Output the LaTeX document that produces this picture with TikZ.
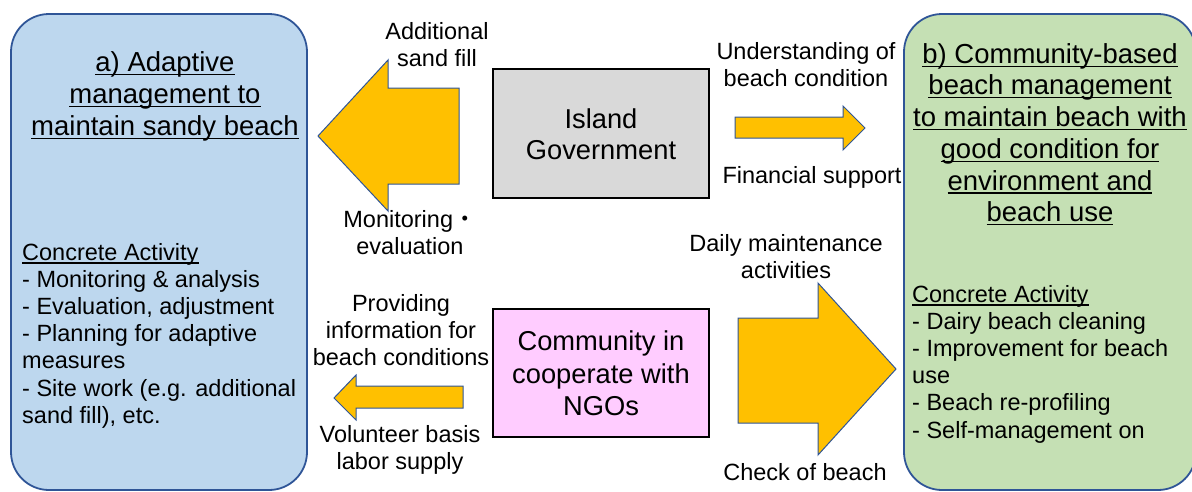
\documentclass[tikz,border=0pt]{standalone}
\usepackage{fontspec}
\setmainfont{Liberation Sans}
\newfontfamily\cjk{Noto Sans CJK JP}
\newsavebox\ulbox
\newcommand\myul[1]{\sbox\ulbox{#1}\rlap{\rule[-3.5pt]{\wd\ulbox}{1.2pt}}\usebox\ulbox}
\definecolor{leftblue}{HTML}{BDD7EE}
\definecolor{rightgreen}{HTML}{C5E0B4}
\definecolor{boxblue}{HTML}{2F5597}
\definecolor{govgray}{HTML}{D9D9D9}
\definecolor{commpink}{HTML}{FFCCFF}
\definecolor{arrowyellow}{HTML}{FFC000}
\definecolor{arrowblue}{HTML}{2F5597}
\tikzset{
  lbl/.style={font=\fontsize{23.5pt}{27.2pt}\selectfont, align=center, inner sep=0pt},
  titletext/.style={font=\fontsize{27.5pt}{31.7pt}\selectfont, align=center, inner sep=0pt},
  acttext/.style={font=\fontsize{23.5pt}{27.2pt}\selectfont, align=left, inner sep=0pt, anchor=north west},
  bigbox/.style={draw=boxblue, line width=1.8pt, rounded corners=38pt, inner sep=0pt},
  actor/.style={draw=black, line width=2.5pt, inner sep=0pt},
  blockarrow/.style={fill=arrowyellow, draw=arrowblue, line width=1pt, line join=miter}
}
\begin{document}
\begin{tikzpicture}[x=1pt,y=-1pt]
\useasboundingbox (0,0) rectangle (1192,491);
% main boxes
\node[bigbox, fill=leftblue, minimum width=296pt, minimum height=476pt] (left) at (159,252) {};
\node[bigbox, fill=rightgreen, minimum width=292pt, minimum height=476pt] (right) at (1050,252) {};
\node[actor, fill=govgray, minimum width=216pt, minimum height=129pt] (gov) at (601,133.5) {};
\node[actor, fill=commpink, minimum width=216pt, minimum height=128pt] (comm) at (601,373) {};
% actor texts
\node[font=\fontsize{27.3pt}{31.5pt}\selectfont, align=center, inner sep=0pt] (govtext) at (601,134) {Island\\Government};
\node[font=\fontsize{27.3pt}{32.5pt}\selectfont, align=center, inner sep=0pt] (commtext) at (601,373.5) {Community in\\cooperate with\\NGOs};
% titles
\node[titletext] (lefttitle) at (165,96.4) {\myul{a) Adaptive}\\\myul{management to}\\\myul{maintain sandy beach}};
\node[titletext] (righttitle) at (1050,134.3) {\myul{b) Community-based}\\\myul{beach management}\\\myul{to maintain beach with}\\\myul{good condition for}\\\myul{environment and}\\\myul{beach use}};
% activities
\node[acttext] (leftact) at (22,242.8) {\myul{Concrete Activity}\\- Monitoring \& analysis\\- Evaluation, adjustment\\- Planning for adaptive\\measures\\- Site work (e.g. additional\\sand fill), etc.};
\node[acttext] (rightact) at (912,284.8) {\myul{Concrete Activity}\\- Dairy beach cleaning\\- Improvement for beach\\use\\- Beach re-profiling\\- Self-management on};
% block arrows
\draw[blockarrow] (318,136) -- (388,60) -- (388,88) -- (459,88) -- (459,184) -- (388,184) -- (388,211) -- cycle;
\draw[blockarrow] (735,117) -- (843,117) -- (843,106) -- (865,128) -- (843,150) -- (843,138) -- (735,138) -- cycle;
\draw[blockarrow] (334,398) -- (356,375) -- (356,386) -- (463,386) -- (463,408) -- (356,408) -- (356,420) -- cycle;
\draw[blockarrow] (738,318) -- (818,318) -- (818,283) -- (896,369) -- (818,455) -- (818,423) -- (738,423) -- cycle;
% arrow labels
\node[lbl] (l1) at (437,44.9) {Additional\\sand fill};
\node[lbl] (l2) at (410,232.9) {Monitoring{\cjk ・}\\evaluation};
\node[lbl] (l3) at (806,64.9) {Understanding of\\beach condition};
\node[lbl, anchor=base] (l4) at (812,183) {Financial support};
\node[lbl] (l5) at (786,256.4) {Daily maintenance\\activities};
\node[lbl, anchor=base] (l6) at (805,480) {Check of beach};
\node[lbl] (l7) at (401,329.9) {Providing\\information for\\beach conditions};
\node[lbl] (l8) at (400,450.3) {Volunteer basis\\labor supply};
\end{tikzpicture}
\end{document}
